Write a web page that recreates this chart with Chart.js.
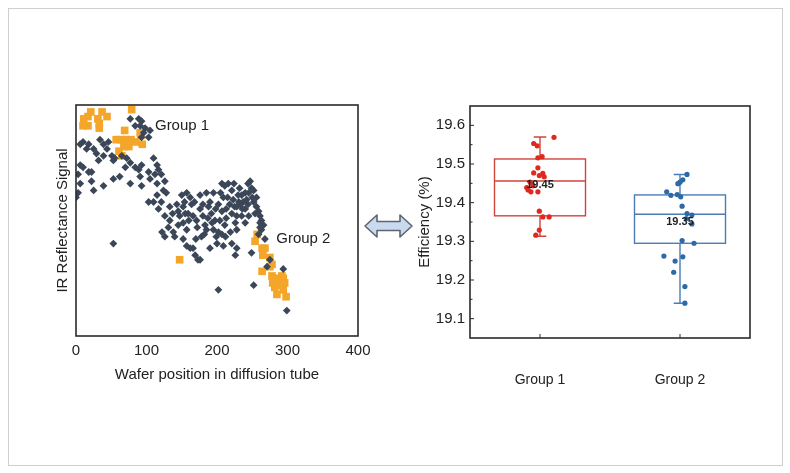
<!DOCTYPE html>
<html>
<head>
<meta charset="utf-8">
<script src="https://cdn.jsdelivr.net/npm/chart.js@4/dist/chart.umd.min.js"></script>
<style>
  body { margin: 0; background: #fff; width: 790px; height: 473px; position: relative; overflow: hidden; }
  #frame { position: absolute; left: 8px; top: 8px; width: 773px; height: 456px; border: 1px solid #cfcfcf; }
  #left { position: absolute; left: 0; top: 80px; }
  #right { position: absolute; left: 400px; top: 80px; }
  svg { position: absolute; left: 0; top: 0; }
</style>
</head>
<body>
<div id="frame"></div>
<canvas id="left" width="380" height="310"></canvas>
<canvas id="right" width="380" height="320"></canvas>
<svg width="790" height="473">
  <polygon points="365,226 377,215 377,221.5 400,221.5 400,215 412,226 400,237 400,230.5 377,230.5 377,237"
           fill="#c9daef" stroke="#5d6670" stroke-width="1.6" stroke-linejoin="round"/>
</svg>
<script>
// ---- left panel: IR reflectance vs wafer position ----
const posTicks = [0, 100, 200, 300, 400];
const darkPts = [
  [77,94],[89,94],[93,93],[84,91],[91,91],[98,90],[96,88],[105,89],[103,86],[93,86],
  [10,84],[6,83],[18,83],[15,81],[25,81],[29,79],[34,85],[39,83],[46,84],[44,81],
  [51,78],[55,77],[65,78],[53,76],[39,78],[32,76],[72,77],[77,75],[70,73],[84,73],
  [93,74],[110,77],[115,74],[117,72],[112,70],[103,71],[105,68],[115,66],[115,61],[110,58],
  [6,74],[10,73],[3,70],[18,71],[22,71],[25,63],[3,62],[6,66],[22,67],[39,65],
  [53,68],[62,69],[77,66],[91,69],[93,65],[103,58],[89,72],[0,60],[117,55],[122,45],
  [53,40],
  [121,70],[126,67],[124,63],[128,62],[121,58],[126,52],[133,50],[131,47],[138,45],[140,43],
  [126,43],[133,56],[143,57],[145,54],[147,52],[152,56],[154,58],[150,61],[157,62],[162,60],
  [164,57],[159,53],[152,49],[157,46],[152,42],[166,52],[171,50],[176,55],[176,61],[185,62],
  [190,58],[188,56],[180,52],[183,48],[185,46],[178,43],[192,53],[197,50],[195,46],[202,45],
  [207,44],[199,43],[211,48],[207,54],[202,57],[195,62],[209,60],[211,65],[216,66],[221,63],
  [218,57],[223,59],[225,56],[221,53],[228,52],[209,39],[190,38],[166,38],[162,38],[157,39],
  [169,35],[173,33],[221,40],[228,38],
  [247,67],[244,66],[249,64],[252,63],[240,62],[235,61],[230,61],[242,59],[237,58],[233,57],
  [244,57],[228,56],[240,55],[252,58],[256,56],[259,54],[261,52],[263,50],[266,48],[261,47],
  [254,53],[235,52],[228,46],[259,44],
  [207,66],[261,49],[263,46],[268,42],[226,35],[249,36],[202,20],[252,22],[299,11],[275,33],
  [271,30],[294,29],[176,33],
  [168,58],[172,47],[180,57],[187,51],[193,49],[198,55],[204,50],[213,51],[215,60],[219,45],
  [226,49],[231,58],[236,55],[240,49],[245,62],[250,60],[232,64],[224,66],[213,55],[205,62],
  [160,50],[155,53],[145,48],[137,53],[182,44],[170,42],[200,40],[212,43],[245,52],[256,60]
];
const orangePts = [
  [21,97],[17,95],[11,94],[10,91],[17,91],[31,94],[33,92],[33,90],[37,97],[44,95],
  [79,98],[69,89],[57,85],[64,85],[71,85],[78,85],[85,84],[92,87],[91,88],[94,83],
  [75,82],[68,82],[65,78],[61,80],
  [257,44],[254,41],[264,38],[268,38],[265,35],[275,34],[278,31],[264,28],[275,30],[278,26],
  [285,25],[292,26],[294,25],[279,23],[289,22],[296,23],[282,21],[294,20],[285,18],[298,17],
  [147,33]
];
const noteText = ['Group 1', 'Group 2'];
const noteAt = [[112, 91], [284, 42]];

// ---- right panel: efficiency box plot ----
const groups = ['Group 1', 'Group 2'];
const groupPos = [1, 3];
const effTicks = [19.1, 19.2, 19.3, 19.4, 19.5, 19.6];
const boxMin = [19.313, 19.140];
const boxQ1  = [19.366, 19.295];
const boxMed = [19.456, 19.370];
const boxQ3  = [19.513, 19.420];
const boxMax = [19.570, 19.473];
const meanVal = [19.445, 19.35];
const meanText = ['19.45', '19.35'];
const g1Y = [19.569,19.553,19.547,19.516,19.519,19.490,19.477,19.476,19.470,19.467,19.453,
             19.439,19.433,19.428,19.428,19.444,19.378,19.363,19.363,19.329,19.316];
const g1X = [1.20,0.91,0.96,0.97,1.03,0.97,0.91,1.04,0.99,1.06,0.86,
             0.81,0.83,0.87,0.97,0.90,0.99,1.04,1.13,0.99,0.94];
const g2Y = [19.473,19.459,19.453,19.449,19.428,19.419,19.421,19.415,19.391,19.372,19.368,
             19.359,19.345,19.302,19.295,19.262,19.260,19.249,19.220,19.183,19.140];
const g2X = [3.10,3.04,3.00,2.97,2.81,2.87,2.96,3.01,3.03,3.10,3.17,
             3.09,3.17,3.03,3.20,2.77,3.04,2.93,2.91,3.07,3.07];
const boxColor = ['#d2433d', '#4a7db6'];
const dotColor = ['#e0281f', '#2c69a6'];

const FONT = '"Liberation Sans", Arial, sans-serif';
Chart.defaults.font.family = FONT;
Chart.defaults.color = '#222';

const leftDecor = {
  id: 'leftDecor',
  afterDraw(c) {
    const { ctx, chartArea: a, scales: { x, y } } = c;
    ctx.save();
    ctx.strokeStyle = '#2a2a2a';
    ctx.lineWidth = 1.6;
    ctx.strokeRect(a.left, a.top, a.width, a.height);
    ctx.fillStyle = '#222';
    ctx.font = '15px ' + FONT;
    ctx.textBaseline = 'middle';
    noteText.forEach((t, i) => ctx.fillText(t, x.getPixelForValue(noteAt[i][0]), y.getPixelForValue(noteAt[i][1])));
    ctx.restore();
  }
};

new Chart(document.getElementById('left'), {
  type: 'scatter',
  data: {
    datasets: [
      { data: darkPts.map(p => ({ x: p[0], y: p[1] })), pointStyle: 'rectRot', pointRadius: 3.9,
        backgroundColor: '#3b4758', borderWidth: 0 },
      { data: orangePts.map(p => ({ x: p[0], y: p[1] })), pointStyle: 'rect', pointRadius: 5.4,
        backgroundColor: '#f4a62a', borderWidth: 0 }
    ]
  },
  options: {
    responsive: false, animation: false,
    layout: { padding: { top: 25, right: 22, left: 0, bottom: 0 } },
    plugins: { legend: { display: false }, tooltip: { enabled: false } },
    scales: {
      x: {
        type: 'linear', min: 0, max: 400,
        afterBuildTicks: s => { s.ticks = posTicks.map(v => ({ value: v })); },
        ticks: { font: { size: 15 }, padding: 6 },
        grid: { display: false, drawTicks: false }, border: { display: false },
        title: { display: true, text: 'Wafer position in diffusion tube', font: { size: 15 }, padding: { top: 0, bottom: 6 } },
        afterFit: s => { s.height = 54; }
      },
      y: {
        min: 0, max: 100,
        ticks: { display: false },
        grid: { display: false, drawTicks: false }, border: { display: false },
        title: { display: true, text: 'IR Reflectance Signal', font: { size: 15 }, padding: { top: 54, bottom: 0 } },
        afterFit: s => { s.width = 76; }
      }
    }
  },
  plugins: [leftDecor]
});

const boxPlot = {
  id: 'boxPlot',
  beforeDatasetsDraw(c) {
    const { ctx, scales: { x, y } } = c;
    ctx.save();
    ctx.lineWidth = 1.4;
    groupPos.forEach((g, i) => {
      const l = x.getPixelForValue(g - 0.65), r = x.getPixelForValue(g + 0.65), m = x.getPixelForValue(g);
      const cl = x.getPixelForValue(g - 0.09), cr = x.getPixelForValue(g + 0.09);
      const yq1 = y.getPixelForValue(boxQ1[i]), yq3 = y.getPixelForValue(boxQ3[i]);
      const ymd = y.getPixelForValue(boxMed[i]);
      const ylo = y.getPixelForValue(boxMin[i]), yhi = y.getPixelForValue(boxMax[i]);
      ctx.strokeStyle = boxColor[i];
      ctx.strokeRect(l, yq3, r - l, yq1 - yq3);
      ctx.beginPath();
      ctx.moveTo(l, ymd); ctx.lineTo(r, ymd);
      ctx.moveTo(m, yq3); ctx.lineTo(m, yhi);
      ctx.moveTo(m, yq1); ctx.lineTo(m, ylo);
      ctx.moveTo(cl, yhi); ctx.lineTo(cr, yhi);
      ctx.moveTo(cl, ylo); ctx.lineTo(cr, ylo);
      ctx.stroke();
    });
    ctx.restore();
  },
  afterDraw(c) {
    const { ctx, chartArea: a, scales: { x, y } } = c;
    ctx.save();
    ctx.strokeStyle = '#2a2a2a';
    ctx.lineWidth = 1.6;
    ctx.strokeRect(a.left, a.top, a.width, a.height);
    ctx.lineWidth = 1;
    ctx.beginPath();
    effTicks.forEach(v => {
      const p = y.getPixelForValue(v);
      ctx.moveTo(a.left, p); ctx.lineTo(a.left + 4, p);
      const h = y.getPixelForValue(v + 0.05);
      if (h > a.top) { ctx.moveTo(a.left, h); ctx.lineTo(a.left + 2.5, h); }
    });
    groupPos.forEach(g => {
      const p = x.getPixelForValue(g);
      ctx.moveTo(p, a.bottom); ctx.lineTo(p, a.bottom - 4);
    });
    ctx.stroke();
    ctx.fillStyle = '#1e1e1e';
    ctx.font = 'bold 11px ' + FONT;
    ctx.textAlign = 'center';
    ctx.textBaseline = 'middle';
    groupPos.forEach((g, i) => ctx.fillText(meanText[i], x.getPixelForValue(g), y.getPixelForValue(meanVal[i])));
    ctx.restore();
  }
};

new Chart(document.getElementById('right'), {
  type: 'scatter',
  data: {
    datasets: [
      { data: g1X.map((v, i) => ({ x: v, y: g1Y[i] })), pointRadius: 2.6, backgroundColor: dotColor[0], borderWidth: 0 },
      { data: g2X.map((v, i) => ({ x: v, y: g2Y[i] })), pointRadius: 2.6, backgroundColor: dotColor[1], borderWidth: 0 }
    ]
  },
  options: {
    responsive: false, animation: false,
    layout: { padding: { top: 26, right: 30, left: 0, bottom: 0 } },
    plugins: { legend: { display: false }, tooltip: { enabled: false } },
    scales: {
      x: {
        type: 'linear', min: 0, max: 4,
        afterBuildTicks: s => { s.ticks = groupPos.map(v => ({ value: v })); },
        ticks: { font: { size: 14 }, padding: 34, callback: (v, i) => groups[i] },
        grid: { display: false, drawTicks: false }, border: { display: false },
        afterFit: s => { s.height = 62; }
      },
      y: {
        min: 19.05, max: 19.65,
        afterBuildTicks: s => { s.ticks = effTicks.map(v => ({ value: v })); },
        ticks: { font: { size: 15 }, padding: 5, callback: v => v.toFixed(1) },
        grid: { display: false, drawTicks: false }, border: { display: false },
        title: { display: true, text: 'Efficiency (%)', font: { size: 15 }, padding: { top: 16, bottom: 0 } },
        afterFit: s => { s.width = 70; }
      }
    }
  },
  plugins: [boxPlot]
});
</script>
</body>
</html>
